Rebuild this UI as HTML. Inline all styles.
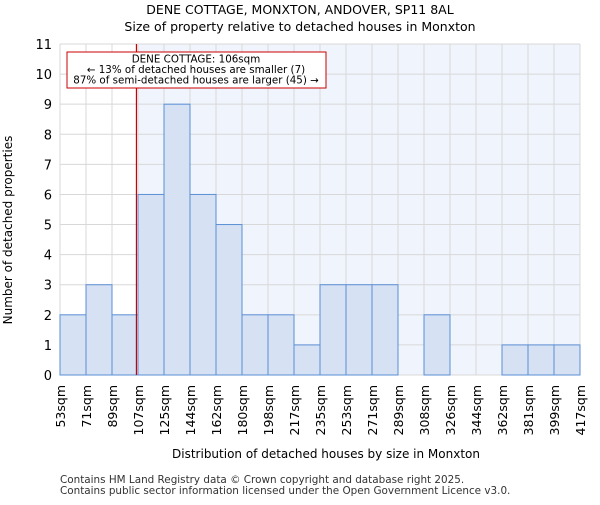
<!DOCTYPE html>
<html><head><meta charset="utf-8"><style>
body{margin:0;background:#fff;font-family:"Liberation Sans","DejaVu Sans",sans-serif}
</style></head><body>
<svg id="c" width="600" height="500" xmlns="http://www.w3.org/2000/svg" font-family="DejaVu Sans, Liberation Sans, sans-serif">
<text x="300" y="14" text-anchor="middle" font-size="12.5">DENE COTTAGE, MONXTON, ANDOVER, SP11 8AL</text>
<text x="300" y="31" text-anchor="middle" font-size="12.5">Size of property relative to detached houses in Monxton</text>
<g id="plot"></g>
<text x="326" y="458" text-anchor="middle" font-size="12">Distribution of detached houses by size in Monxton</text>
<text transform="translate(12,230) rotate(-90)" text-anchor="middle" font-size="12">Number of detached properties</text>
<text x="60" y="483" font-size="10.4" fill="#333">Contains HM Land Registry data © Crown copyright and database right 2025.</text>
<text x="60" y="494" font-size="10.4" fill="#333">Contains public sector information licensed under the Open Government Licence v3.0.</text>
</svg>
<script>
const edgeLabels=["53sqm","71sqm","89sqm","107sqm","125sqm","144sqm","162sqm","180sqm","198sqm","217sqm","235sqm","253sqm","271sqm","289sqm","308sqm","326sqm","344sqm","362sqm","381sqm","399sqm","417sqm"];
const counts=[2,3,2,6,9,6,5,2,2,1,3,3,3,0,2,0,0,1,1,1];
const yTicks=[0,1,2,3,4,5,6,7,8,9,10,11];
const markerBin=2.94;
const NS="http://www.w3.org/2000/svg";
const L=60,R=580,T=44,B=375,YMAX=11;
const n=counts.length;
const xs=i=>L+(R-L)*i/n;
const ys=v=>B-(B-T)*v/YMAX;
const g=document.getElementById('plot');
function mk(t,a){const e=document.createElementNS(NS,t);for(const k in a)e.setAttribute(k,a[k]);g.appendChild(e);return e;}
const mx=xs(markerBin);
let e=mk('rect',{x:L,y:T,width:mx-L,height:B-T,fill:'#fff'});


e=mk('rect',{x:mx,y:T,width:R-mx,height:B-T,fill:'#f0f4fc'});


yTicks.forEach(v=>{
 const l=mk('line',{x1:L,x2:R,y1:ys(v),y2:ys(v),stroke:'#d8d8d8','stroke-width':1});
 
 
 const t=mk('text',{x:L-8,y:ys(v)+5,'text-anchor':'end','font-size':13});
 t.textContent=v;
 
 
});
edgeLabels.forEach((s,i)=>{
 const l=mk('line',{x1:xs(i),x2:xs(i),y1:T,y2:B,stroke:'#d8d8d8','stroke-width':1});
 
 
 const t=mk('text',{transform:`translate(${xs(i)+5},385) rotate(-90)`,'text-anchor':'end','font-size':12.5});
 t.textContent=s;
 
 
});
counts.forEach((v,i)=>{
 if(v<=0)return;
 const r=mk('rect',{x:xs(i),y:ys(v),width:xs(i+1)-xs(i),height:ys(0)-ys(v),fill:'#d6e1f3',stroke:'#5b8fd6','stroke-width':1});
 
 
});
e=mk('line',{x1:mx,x2:mx,y1:T,y2:B,stroke:'#cc0000','stroke-width':1.2});


e=mk('rect',{x:67,y:52,width:259,height:36,fill:'#fff',stroke:'#cc0000','stroke-width':1});


["DENE COTTAGE: 106sqm","← 13% of detached houses are smaller (7)","87% of semi-detached houses are larger (45) →"].forEach((s,i)=>{
 const t=mk('text',{x:196,y:62.5+i*10.5,'text-anchor':'middle','font-size':10.3});
 t.textContent=s;
 
 
});
</script>
</body></html>
